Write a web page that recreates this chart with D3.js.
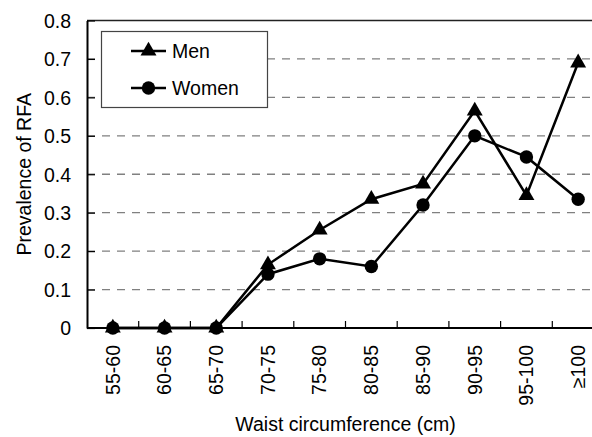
<!DOCTYPE html>
<html lang="en">
<head>
    <meta charset="UTF-8">
    <title>Prevalence of RFA by waist circumference</title>
    <script src="https://d3js.org/d3.v7.min.js"></script>
    <style>
        body { margin: 0; background: #fff; }
        svg text { font-family: "Liberation Sans", Arial, sans-serif; fill: #000; }
    </style>
</head>
<body>
<svg width="592" height="437"></svg>
<script>
    // data
    const categories = ["55-60", "60-65", "65-70", "70-75", "75-80", "80-85", "85-90", "90-95", "95-100", "\u2265100"];
    const men = [0, 0, 0, 0.165, 0.255, 0.335, 0.375, 0.565, 0.345, 0.69];
    const women = [0, 0, 0, 0.14, 0.18, 0.16, 0.32, 0.50, 0.445, 0.335];
    const yTicks = [0, 0.1, 0.2, 0.3, 0.4, 0.5, 0.6, 0.7, 0.8];

    const svg = d3.select("svg");
    const plotL = 87, plotT = 20.5, plotB = 328, plotR = 604;
    const fs = "19.5px";

    const x = d3.scaleBand().domain(categories).range([plotL, plotR]);
    const y = d3.scaleLinear().domain([0, 0.8]).range([plotB, plotT]);

    // dashed grid lines
    svg.append("g").selectAll("line")
        .data(yTicks.slice(1, -1))
        .join("line")
        .attr("x1", plotL).attr("x2", 592)
        .attr("y1", d => y(d)).attr("y2", d => y(d))
        .attr("stroke", "#808080")
        .attr("stroke-width", 1.3)
        .attr("stroke-dasharray", "8,7");

    // top border
    svg.append("line")
        .attr("x1", plotL).attr("x2", 592)
        .attr("y1", y(0.8)).attr("y2", y(0.8))
        .attr("stroke", "#222").attr("stroke-width", 1.5);

    // y axis
    const yAxis = svg.append("g")
        .attr("transform", `translate(${plotL},0)`)
        .call(d3.axisLeft(y).tickValues(yTicks).tickFormat(d => d === 0 ? "0" : d3.format(".1f")(d))
            .tickSizeInner(-8).tickSizeOuter(0).tickPadding(16));
    yAxis.select(".domain").attr("stroke", "#000").attr("stroke-width", 2);
    yAxis.selectAll(".tick line").attr("stroke", "#000").attr("stroke-width", 1.2);
    yAxis.selectAll("text").style("font-size", fs).attr("dy", "0.35em");

    // x axis, ticks between categories pointing up
    const xAxis = svg.append("g")
        .attr("transform", `translate(0,${plotB})`);
    xAxis.append("line")
        .attr("x1", plotL).attr("x2", 592)
        .attr("stroke", "#000").attr("stroke-width", 2);
    xAxis.selectAll(".sep")
        .data(categories.slice(1))
        .join("line")
        .attr("class", "sep")
        .attr("x1", d => x(d)).attr("x2", d => x(d))
        .attr("y1", 0).attr("y2", -7)
        .attr("stroke", "#000").attr("stroke-width", 1.2);
    xAxis.selectAll(".lab")
        .data(categories)
        .join("text")
        .attr("class", "lab")
        .attr("transform", d => `translate(${x(d) + x.bandwidth() / 2},17) rotate(-90)`)
        .attr("text-anchor", "end")
        .attr("dy", "0.35em")
        .style("font-size", fs)
        .text(d => d);

    // axis titles
    svg.append("text")
        .attr("x", (plotL + plotR) / 2).attr("y", 431)
        .attr("text-anchor", "middle")
        .style("font-size", fs)
        .text("Waist circumference (cm)");
    svg.append("text")
        .attr("transform", `translate(31,${(plotT + plotB) / 2}) rotate(-90)`)
        .attr("text-anchor", "middle")
        .style("font-size", fs)
        .text("Prevalence of RFA");

    const cx = (d, i) => x(categories[i]) + x.bandwidth() / 2;
    const line = d3.line().x(cx).y(d => y(d));
    const tri = d3.symbol().type(d3.symbolTriangle).size(110);
    const dot = d3.symbol().type(d3.symbolCircle).size(140);

    const series = [
        { name: "Men", values: men, sym: tri },
        { name: "Women", values: women, sym: dot }
    ];

    series.forEach(s => {
        svg.append("path")
            .attr("d", line(s.values))
            .attr("fill", "none")
            .attr("stroke", "#000")
            .attr("stroke-width", 2.5)
            .attr("stroke-linejoin", "miter");
        svg.append("g").selectAll("path")
            .data(s.values)
            .join("path")
            .attr("transform", (d, i) => `translate(${cx(d, i)},${y(d)})`)
            .attr("d", s.sym())
            .attr("fill", "#000");
    });

    // legend
    const lg = svg.append("g");
    lg.append("rect")
        .attr("x", 101.5).attr("y", 31.5)
        .attr("width", 166).attr("height", 76)
        .attr("fill", "#fff")
        .attr("stroke", "#444").attr("stroke-width", 1.2);
    series.forEach((s, i) => {
        const ly = 51 + i * 37;
        lg.append("line")
            .attr("x1", 131).attr("x2", 166)
            .attr("y1", ly).attr("y2", ly)
            .attr("stroke", "#000").attr("stroke-width", 2.5);
        lg.append("path")
            .attr("transform", `translate(148.5,${ly})`)
            .attr("d", s.sym())
            .attr("fill", "#000");
        lg.append("text")
            .attr("x", 172).attr("y", ly)
            .attr("dy", "0.35em")
            .style("font-size", fs)
            .text(s.name);
    });
</script>
</body>
</html>
